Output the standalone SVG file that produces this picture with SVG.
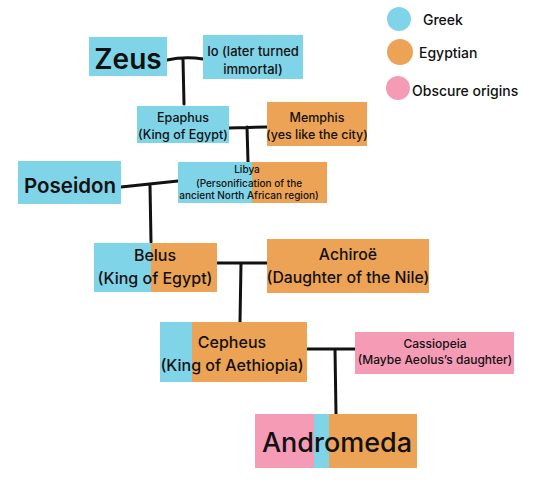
<svg xmlns="http://www.w3.org/2000/svg" width="540" height="504" viewBox="0 0 540 504">
<style>
text{font-family:Inter,"Liberation Sans",sans-serif;fill:#111;text-anchor:middle;dominant-baseline:central;font-weight:500}
.g{fill:#80d4e8}.e{fill:#eda355}.p{fill:#f59bb6}
.c{stroke:#111;stroke-width:3;fill:none;stroke-linecap:round;stroke-linejoin:round}
.l{text-anchor:start}
</style>
<rect width="540" height="504" fill="#fff"/>
<g id="connectors">
<path class="c" d="M167 60 Q185 56 203 59 M183 59 L184 104"/>
<path class="c" d="M229 128 L267 127 M247 127 L248 162"/>
<path class="c" d="M121 187 L178 181 M150 185 L151 242"/>
<path class="c" d="M217 263 L267 263 M241 263 L240 322"/>
<path class="c" d="M307 349 L355 349 M335 349 L336 414"/>
</g>
<g id="zeus"><rect class="g" x="89" y="37" width="78" height="39"/><text x="128" y="59" style="font-size:28px;font-weight:600">Zeus</text></g>
<g id="io"><rect class="g" x="203" y="35" width="100" height="44"/><text x="253" y="51" style="font-size:13px">Io (later turned</text><text x="253" y="69" style="font-size:13px">immortal)</text></g>
<g id="epaphus"><rect class="g" x="137" y="106" width="92" height="37"/><text x="183" y="117" style="font-size:12.5px">Epaphus</text><text x="183" y="134" style="font-size:12.5px">(King of Egypt)</text></g>
<g id="memphis"><rect class="e" x="267" y="102" width="100" height="44"/><text x="317" y="117" style="font-size:12.5px">Memphis</text><text x="317" y="134" style="font-size:12.5px">(yes like the city)</text></g>
<g id="libya"><rect class="g" x="178" y="162" width="74" height="41"/><rect class="e" x="252" y="162" width="75" height="41"/><text x="247" y="169" style="font-size:10px">Libya</text><text x="249" y="183" style="font-size:10px">(Personification of the</text><text x="249" y="195" style="font-size:10px">ancient North African region)</text></g>
<g id="poseidon"><rect class="g" x="18" y="161" width="103" height="43"/><text x="70" y="185" style="font-size:20.5px;font-weight:600">Poseidon</text></g>
<g id="belus"><rect class="g" x="94" y="243" width="57" height="49"/><rect class="e" x="151" y="243" width="66" height="49"/><text x="155" y="255" style="font-size:16px">Belus</text><text x="155" y="278" style="font-size:16px">(King of Egypt)</text></g>
<g id="achiroe"><rect class="e" x="267" y="239" width="162" height="54"/><text x="348" y="254" style="font-size:15.8px">Achiroë</text><text x="348" y="277" style="font-size:15.8px">(Daughter of the Nile)</text></g>
<g id="cepheus"><rect class="g" x="160" y="322" width="32" height="60"/><rect class="e" x="192" y="322" width="115" height="60"/><text x="232" y="342" style="font-size:16px">Cepheus</text><text x="232" y="365" style="font-size:16px">(King of Aethiopia)</text></g>
<g id="cassiopeia"><rect class="p" x="355" y="332" width="159" height="42"/><text x="435" y="343" style="font-size:12px">Cassiopeia</text><text x="435" y="359" style="font-size:12px">(Maybe Aeolus’s daughter)</text></g>
<g id="andromeda"><rect class="p" x="255" y="414" width="59" height="54"/><rect class="g" x="314" y="414" width="15" height="54"/><rect class="e" x="329" y="414" width="88" height="54"/><text x="337" y="442" style="font-size:27px">Andromeda</text></g>
<g id="legend">
<circle class="g" cx="399" cy="19" r="12"/><text class="l" x="423" y="19" style="font-size:14px">Greek</text>
<circle class="e" cx="400" cy="52" r="13"/><text class="l" x="419" y="52" style="font-size:14px">Egyptian</text>
<circle class="p" cx="398" cy="88" r="12"/><text class="l" x="412" y="90" style="font-size:14px">Obscure origins</text>
</g>
</svg>
